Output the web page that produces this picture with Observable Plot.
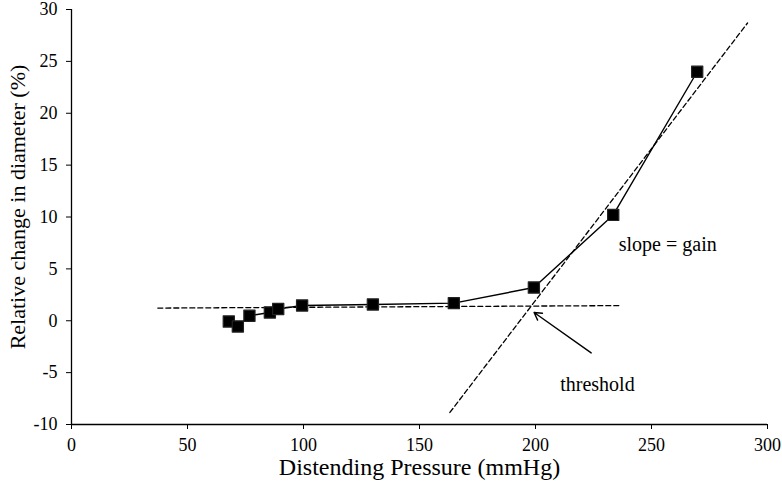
<!DOCTYPE html>
<html>
<head>
<meta charset="utf-8">
<script src="https://cdn.jsdelivr.net/npm/d3@7"></script>
<script src="https://cdn.jsdelivr.net/npm/@observablehq/plot@0.6"></script>
<style>
  html, body { margin: 0; padding: 0; background: #fff; }
</style>
</head>
<body>
<div id="chart"></div>
<script>
const pressure = [67.8, 71.7, 76.7, 85.5, 89.1, 99.4, 129.9, 164.8, 199.3, 233.5, 269.7];
const diameter = [-0.07, -0.55, 0.48, 0.8, 1.13, 1.47, 1.57, 1.7, 3.2, 10.2, 24.0];

const baselineX = [37.2, 235.9];
const baselineY = [1.22, 1.46];
const gainLineX = [163.1, 291.4];
const gainLineY = [-8.84, 28.7];

const arrowFrom = [224, -3.1];
const arrowTo = [199.4, 0.8];

const xTicks = [0, 50, 100, 150, 200, 250, 300];
const yTicks = [-10, -5, 0, 5, 10, 15, 20, 25, 30];

const xLabel = "Distending Pressure (mmHg)";
const yLabel = "Relative change in diameter (%)";
const notes = [
  {x: 257, y: 7.3, text: "slope = gain"},
  {x: 226.7, y: -6.2, text: "threshold"}
];

const points = pressure.map((p, i) => ({x: p, y: diameter[i]}));
const base = baselineX.map((x, i) => ({x, y: baselineY[i]}));
const gain = gainLineX.map((x, i) => ({x, y: gainLineY[i]}));

const serif = "'Liberation Serif', 'Times New Roman', serif";

const chart = Plot.plot({
  width: 782,
  height: 491,
  marginLeft: 71,
  marginRight: 15,
  marginTop: 9,
  marginBottom: 67,
  style: {fontFamily: serif, fontSize: "18px", color: "black", background: "white"},
  x: {domain: [0, 300], ticks: xTicks, label: null},
  y: {domain: [-10, 30], ticks: yTicks, label: null},
  marks: [
    Plot.axisX({ticks: xTicks, tickSize: 5, tickPadding: 9, fontSize: 18, label: null, tickFormat: d => String(d)}),
    Plot.axisY({ticks: yTicks, tickSize: 5, tickPadding: 9, fontSize: 18, label: null, tickFormat: d => String(d)}),
    Plot.ruleX([0], {stroke: "black", strokeWidth: 1.3}),
    Plot.ruleY([-10], {stroke: "black", strokeWidth: 1.3}),
    Plot.line(base, {x: "x", y: "y", stroke: "black", strokeWidth: 1.3, strokeDasharray: "5,3"}),
    Plot.line(gain, {x: "x", y: "y", stroke: "black", strokeWidth: 1.3, strokeDasharray: "5,3"}),
    Plot.line(points, {x: "x", y: "y", stroke: "black", strokeWidth: 1.4}),
    Plot.dot(points, {x: "x", y: "y", symbol: "square", r: 6.3, fill: "black", stroke: "#222", strokeWidth: 1.2, strokeLinejoin: "round"}),
    Plot.arrow([{x1: arrowFrom[0], y1: arrowFrom[1], x2: arrowTo[0], y2: arrowTo[1]}], {x1: "x1", y1: "y1", x2: "x2", y2: "y2", stroke: "black", strokeWidth: 1.4, headLength: 9}),
    Plot.text(notes, {x: "x", y: "y", text: "text", fontSize: 20, fontFamily: serif, fill: "black"}),
    Plot.text([xLabel], {frameAnchor: "bottom", dy: 50, fontSize: 24, fontFamily: serif, fill: "black"}),
    Plot.text([yLabel], {frameAnchor: "left", textAnchor: "middle", rotate: -90, dx: -54, dy: -10, fontSize: 22, fontFamily: serif, fill: "black"})
  ]
});
document.getElementById("chart").appendChild(chart);
</script>
</body>
</html>
